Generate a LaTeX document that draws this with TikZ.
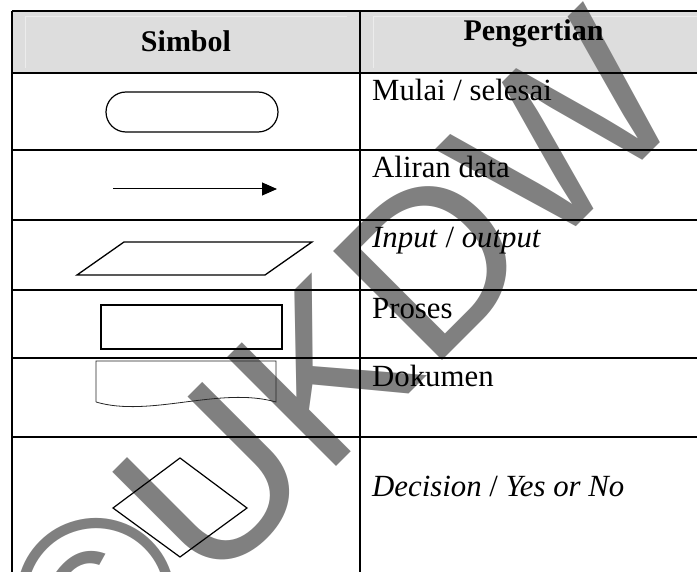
\documentclass[tikz,border=0pt]{standalone}
\usepackage{fontspec}
\setmainfont{Liberation Serif}
\newfontfamily\wmfont{Liberation Sans}
\usetikzlibrary{arrows.meta}
\definecolor{hdrgray}{RGB}{221,221,221}
\definecolor{hilite}{RGB}{236,236,236}
\definecolor{wmgray}{RGB}{128,128,128}
\begin{document}
\begin{tikzpicture}[x=1pt,y=-1pt,
  tline/.style={line width=2pt, black},
  shp/.style={line width=1.2pt, black, line join=miter},
  celltext/.style={anchor=base west, inner sep=0pt, font=\fontsize{30.8}{36}\selectfont},
  headtext/.style={anchor=base, inner sep=0pt, font=\fontsize{30}{36}\selectfont\bfseries},
  wm/.style={rotate=45, inner sep=0pt, text=wmgray, font=\wmfont\fontsize{224}{224}\selectfont}]
\useasboundingbox (0,0) rectangle (697,572);
\begin{scope}
\clip (0,0) rectangle (697,572);
% header background
\fill[hdrgray] (12,11) rectangle (700,73.5);
\draw[hilite, line width=0.8pt] (25,68) -- (25,16) -- (347,16);
\draw[hilite, line width=0.8pt] (373,68) -- (373,16) -- (700,16);
% watermark
\node[wm, anchor=base west] (wmU) at (209,593.6) {UKDW};
\node[wm, anchor=base east] (wmC) at (wmU.base west) {©\hspace{0.278em}};
% table grid
\coordinate (L0) at (12,11);   \coordinate (R0) at (700,11);
\coordinate (L1) at (12,73.5); \coordinate (R1) at (700,73.5);
\coordinate (L2) at (12,150);  \coordinate (R2) at (700,150);
\coordinate (L3) at (12,220.5);\coordinate (R3) at (700,220.5);
\coordinate (L4) at (12,290.5);\coordinate (R4) at (700,290.5);
\coordinate (L5) at (12,358.5);\coordinate (R5) at (700,358.5);
\coordinate (L6) at (12,437);  \coordinate (R6) at (700,437);
\coordinate (LB) at (12,580);
\coordinate (M0) at (360,11);  \coordinate (MB) at (360,580);
\draw[tline] (L0) -- (R0);
\draw[tline] (L1) -- (R1);
\draw[tline] (L2) -- (R2);
\draw[tline] (L3) -- (R3);
\draw[tline] (L4) -- (R4);
\draw[tline] (L5) -- (R5);
\draw[tline] (L6) -- (R6);
\draw[tline] (L0) -- (LB);
\draw[tline] (M0) -- (MB);
% header texts
\node[headtext] (hSimbol) at (186,52) {Simbol};
\node[headtext] (hPeng) at (533.5,41) {Pengertian};
% symbols
\draw[shp, rounded corners=20pt] (106,92) rectangle (278,132);
\coordinate (aS) at (113,189);
\coordinate (aE) at (277,189);
\draw[line width=1pt, -{Triangle[length=15pt,width=13pt]}] (aS) -- (aE);
\draw[shp, line width=1.3pt] (124,242) -- (312,242) -- (265,275) -- (77,275) -- cycle;
\draw[shp, line width=1.3pt] (101,305) rectangle (282,349);
\draw[line width=0.8pt, black!85] (96,402) -- (96,361) -- (276,361) -- (276,402)
   .. controls (220,386) and (150,418) .. (96,402);
\draw[shp, line width=1.2pt] (180,458) -- (247,508) -- (180,557) -- (113,508) -- cycle;
% description texts
\node[celltext] (tMulai) at (372,101) {Mulai / selesai};
\node[celltext] (tAliran) at (372,178) {Aliran data};
\node[celltext] (tIO) at (372,248) {\textit{Input} / \textit{output}};
\node[celltext] (tProses) at (372,319) {Proses};
\node[celltext] (tDok) at (372,387) {Dokumen};
\node[celltext] (tDec) at (372,496) {\textit{Decision} / \textit{Yes or No}};
\end{scope}
\end{tikzpicture}
\end{document}
